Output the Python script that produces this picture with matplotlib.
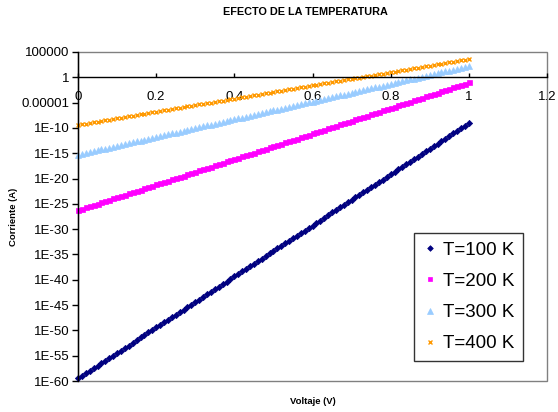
import numpy as np
import matplotlib
matplotlib.use("Agg")
import matplotlib.pyplot as plt
from matplotlib.patches import Rectangle

plt.rcParams['font.family'] = ['Liberation Sans', 'DejaVu Sans']

# voltage grid (V), 0.01 V steps
voltaje = np.linspace(0, 1, 101)

# log10 of current (A), one value per marker
log_t100 = [-59.5, -59.0, -58.5, -58.0, -57.5, -57.0, -56.5, -56.0, -55.5, -55.0,
            -54.5, -54.0, -53.5, -53.0, -52.4, -51.9, -51.4, -50.9, -50.4, -49.9,
            -49.4, -48.9, -48.4, -47.9, -47.4, -46.9, -46.4, -45.9, -45.4, -44.9,
            -44.4, -43.9, -43.4, -42.9, -42.4, -41.9, -41.4, -40.9, -40.4, -39.8,
            -39.3, -38.8, -38.3, -37.8, -37.3, -36.8, -36.3, -35.8, -35.3, -34.8,
            -34.3, -33.8, -33.3, -32.8, -32.3, -31.8, -31.3, -30.8, -30.3, -29.8,
            -29.3, -28.8, -28.3, -27.8, -27.2, -26.7, -26.2, -25.7, -25.2, -24.7,
            -24.2, -23.7, -23.2, -22.7, -22.2, -21.7, -21.2, -20.7, -20.2, -19.7,
            -19.2, -18.7, -18.2, -17.7, -17.2, -16.7, -16.2, -15.7, -15.2, -14.6,
            -14.1, -13.6, -13.1, -12.6, -12.1, -11.6, -11.1, -10.6, -10.1, -9.6,
            -9.1]
log_t200 = [-26.20, -25.95, -25.70, -25.44, -25.19, -24.94, -24.69, -24.44, -24.18, -23.93,
            -23.68, -23.43, -23.18, -22.92, -22.67, -22.42, -22.17, -21.92, -21.66, -21.41,
            -21.16, -20.91, -20.66, -20.40, -20.15, -19.90, -19.65, -19.40, -19.14, -18.89,
            -18.64, -18.39, -18.14, -17.88, -17.63, -17.38, -17.13, -16.88, -16.62, -16.37,
            -16.12, -15.87, -15.62, -15.36, -15.11, -14.86, -14.61, -14.36, -14.10, -13.85,
            -13.60, -13.35, -13.10, -12.84, -12.59, -12.34, -12.09, -11.84, -11.58, -11.33,
            -11.08, -10.83, -10.58, -10.32, -10.07, -9.82, -9.57, -9.32, -9.06, -8.81,
            -8.56, -8.31, -8.06, -7.80, -7.55, -7.30, -7.05, -6.80, -6.54, -6.29,
            -6.04, -5.79, -5.54, -5.28, -5.03, -4.78, -4.53, -4.28, -4.02, -3.77,
            -3.52, -3.27, -3.02, -2.76, -2.51, -2.26, -2.01, -1.76, -1.50, -1.25,
            -1.00]
log_t300 = [-15.30, -15.12, -14.95, -14.77, -14.60, -14.42, -14.25, -14.07, -13.90, -13.72,
            -13.55, -13.37, -13.20, -13.02, -12.85, -12.67, -12.50, -12.32, -12.15, -11.97,
            -11.80, -11.62, -11.45, -11.27, -11.10, -10.92, -10.75, -10.57, -10.40, -10.22,
            -10.05, -9.87, -9.70, -9.52, -9.35, -9.17, -9.00, -8.82, -8.65, -8.47,
            -8.30, -8.12, -7.95, -7.77, -7.60, -7.42, -7.25, -7.07, -6.90, -6.72,
            -6.55, -6.37, -6.20, -6.02, -5.85, -5.67, -5.50, -5.32, -5.15, -4.97,
            -4.80, -4.62, -4.45, -4.27, -4.10, -3.92, -3.75, -3.57, -3.40, -3.22,
            -3.05, -2.87, -2.70, -2.52, -2.35, -2.17, -2.00, -1.82, -1.65, -1.47,
            -1.30, -1.12, -0.95, -0.77, -0.60, -0.42, -0.25, -0.07, 0.10, 0.28,
            0.45, 0.63, 0.80, 0.98, 1.15, 1.33, 1.50, 1.68, 1.85, 2.03,
            2.20]
log_t400 = [-9.40, -9.27, -9.14, -9.01, -8.88, -8.75, -8.62, -8.49, -8.36, -8.23,
            -8.10, -7.97, -7.84, -7.71, -7.58, -7.45, -7.32, -7.19, -7.06, -6.93,
            -6.80, -6.67, -6.54, -6.41, -6.28, -6.15, -6.02, -5.89, -5.76, -5.63,
            -5.50, -5.37, -5.24, -5.11, -4.98, -4.85, -4.72, -4.59, -4.46, -4.33,
            -4.20, -4.07, -3.94, -3.81, -3.68, -3.55, -3.42, -3.29, -3.16, -3.03,
            -2.90, -2.77, -2.64, -2.51, -2.38, -2.25, -2.12, -1.99, -1.86, -1.73,
            -1.60, -1.47, -1.34, -1.21, -1.08, -0.95, -0.82, -0.69, -0.56, -0.43,
            -0.30, -0.17, -0.04, 0.09, 0.22, 0.35, 0.48, 0.61, 0.74, 0.87,
            1.00, 1.13, 1.26, 1.39, 1.52, 1.65, 1.78, 1.91, 2.04, 2.17,
            2.30, 2.43, 2.56, 2.69, 2.82, 2.95, 3.08, 3.21, 3.34, 3.47,
            3.60]

labels = ['T=100 K', 'T=200 K', 'T=300 K', 'T=400 K']
y_ticks = [1e5, 1, 1e-5, 1e-10, 1e-15, 1e-20, 1e-25, 1e-30, 1e-35, 1e-40,
           1e-45, 1e-50, 1e-55, 1e-60]
y_ticklabels = ['100000', '1', '0.00001', '1E-10', '1E-15', '1E-20', '1E-25',
                '1E-30', '1E-35', '1E-40', '1E-45', '1E-50', '1E-55', '1E-60']
x_ticks = [0, 0.2, 0.4, 0.6, 0.8, 1, 1.2]
x_ticklabels = ['0', '0.2', '0.4', '0.6', '0.8', '1', '1.2']

fig = plt.figure(figsize=(5.58, 4.12), dpi=100)
ax = fig.add_axes([78 / 558, 1 - 381 / 412, 469 / 558, 329 / 412])

styles = [
    dict(marker='D', color='#000080', ms=3.2),
    dict(marker='s', color='#FF00FF', ms=3.6),
    dict(marker='^', color='#99CCFF', ms=4.2),
    dict(marker='x', color='#FF9900', ms=3.4, mew=1.0),
]
for logs, lab, st in zip([log_t100, log_t200, log_t300, log_t400], labels, styles):
    ax.plot(voltaje, 10 ** np.array(logs), linestyle='none', marker=st['marker'],
            color=st['color'], markersize=st['ms'], markeredgewidth=st.get('mew', 0.5),
            label=lab, clip_on=False)

ax.set_yscale('log')
ax.set_ylim(1e-60, 1e5)
ax.set_xlim(0, 1.2)
ax.set_yticks(y_ticks)
ax.set_yticklabels(y_ticklabels)
ax.yaxis.set_minor_locator(matplotlib.ticker.NullLocator())
ax.set_xticks(x_ticks)
ax.set_xticklabels(x_ticklabels)

ax.spines['bottom'].set_position(('data', 1))
ax.spines['bottom'].set_color('#000000')
ax.spines['bottom'].set_linewidth(1.0)
ax.spines['left'].set_color('#000000')
ax.spines['left'].set_linewidth(1.0)
ax.spines['top'].set_visible(False)
ax.spines['right'].set_visible(False)
# grey plot-area frame
ax.add_patch(Rectangle((0, 0), 1, 1, transform=ax.transAxes, fill=False,
                       edgecolor='#808080', linewidth=1.0, zorder=0.5, clip_on=False))

ax.tick_params(axis='y', direction='out', length=4, width=1.0,
               labelsize=9.5, colors='#000000', pad=2)
ax.tick_params(axis='x', direction='in', length=3, width=1.0,
               labelsize=9.5, colors='#000000', pad=10)

fig.text(305 / 558, 1 - 12 / 412, 'EFECTO DE LA TEMPERATURA', fontsize=7.8,
         fontweight='bold', ha='center', va='center')
fig.text(14 / 558, 1 - 217 / 412, 'Corriente (A)', rotation=90, fontsize=6.8,
         fontweight='bold', ha='center', va='center')
fig.text(313 / 558, 1 - 402 / 412, 'Voltaje (V)', fontsize=6.8,
         fontweight='bold', ha='center', va='center')

leg = ax.legend(loc='center', bbox_to_anchor=((468.5 - 78) / 469, (381 - 297) / 329),
                fontsize=13.5, frameon=True, fancybox=False,
                edgecolor='#000000', borderpad=0.45, labelspacing=0.75,
                handlelength=0.8, handletextpad=0.3, markerscale=0.9)
leg.get_frame().set_linewidth(1.0)

fig.savefig('out.png', dpi=100)
